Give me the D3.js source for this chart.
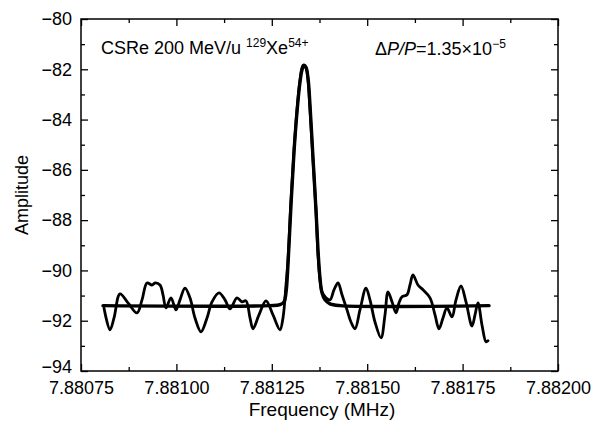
<!DOCTYPE html>
<html>
<head>
<meta charset="utf-8">
<script src="https://cdn.jsdelivr.net/npm/d3@7"></script>
<style>
  html, body { margin: 0; padding: 0; background: #fff; }
  svg { display: block; font-family: "Liberation Sans", Arial, Helvetica, sans-serif; }
</style>
</head>
<body>
<svg id="chart" width="601" height="424"></svg>
<script>
// ---- Data ----
const measFreq = [7.8808103, 7.8808260, 7.8808365, 7.8808522, 7.8808732, 7.8808967, 7.8809099, 7.8809230,
  7.8809361, 7.8809439, 7.8809570, 7.8809649, 7.8809727, 7.8809858, 7.8809989, 7.8810094, 7.8810225,
  7.8810356, 7.8810487, 7.8810645, 7.8810802, 7.8810933, 7.8811116, 7.8811274, 7.8811405, 7.8811588,
  7.8811719, 7.8811824, 7.8811929, 7.8812007, 7.8812164, 7.8812348, 7.8812531, 7.8812715, 7.8812793,
  7.8812872, 7.8812924, 7.8813003, 7.8813082, 7.8813160, 7.8813239, 7.8813318, 7.8813396, 7.8813449,
  7.8813501, 7.8813580, 7.8813658, 7.8813711, 7.8813763, 7.8813815, 7.8813920, 7.8814025, 7.8814130,
  7.8814235, 7.8814340, 7.8814471, 7.8814575, 7.8814680, 7.8814811, 7.8814968, 7.8815073, 7.8815204,
  7.8815362, 7.8815466, 7.8815545, 7.8815650, 7.8815755, 7.8815833, 7.8815912, 7.8816043, 7.8816121,
  7.8816200, 7.8816331, 7.8816462, 7.8816646, 7.8816777, 7.8816881, 7.8816986, 7.8817091, 7.8817222,
  7.8817327, 7.8817458, 7.8817589, 7.8817746, 7.8817825, 7.8817903, 7.8818008, 7.8818113, 7.8818165];
const measAmp = [-91.49, -92.36, -91.89, -90.93, -91.29, -91.69, -91.17, -90.50,
  -90.58, -90.50, -90.58, -90.97, -91.49, -91.09, -91.57, -91.17, -90.70,
  -91.09, -91.89, -92.44, -91.89, -91.25, -90.89, -91.17, -91.53, -91.09,
  -91.25, -91.21, -91.89, -92.32, -91.77, -91.21, -91.77, -92.36, -91.89,
  -90.58, -89.58, -87.20, -85.21, -83.62, -82.43, -81.84, -81.95, -82.43,
  -83.62, -85.61, -87.60, -89.38, -90.38, -90.85, -91.09, -91.17, -90.77,
  -90.50, -90.97, -91.57, -92.05, -92.32, -91.57, -90.70, -91.17, -92.05,
  -92.68, -91.77, -90.85, -91.25, -91.69, -91.29, -91.05, -90.97, -90.58,
  -90.18, -90.58, -90.77, -91.09, -91.77, -92.32, -91.89, -91.49, -91.85,
  -91.17, -90.62, -91.25, -92.21, -91.77, -91.29, -92.17, -92.84, -92.80];

const fitFreq = [7.8808077, 7.8812453, 7.8812715, 7.8812820, 7.8812872, 7.8812924, 7.8813003, 7.8813082,
  7.8813160, 7.8813239, 7.8813291, 7.8813344, 7.8813396, 7.8813449, 7.8813501, 7.8813580, 7.8813658,
  7.8813711, 7.8813763, 7.8813815, 7.8813894, 7.8814025, 7.8814287, 7.8818192];
const fitAmp = [-91.40, -91.40, -91.36, -91.25, -90.89, -89.78, -87.40, -85.29,
  -83.70, -82.51, -82.03, -81.84, -81.92, -82.35, -83.42, -85.53, -87.60,
  -89.19, -90.30, -90.89, -91.17, -91.33, -91.40, -91.40];

const freqTicks = [7.88075, 7.88100, 7.88125, 7.88150, 7.88175, 7.88200];
const freqMinorTicks = [7.880875, 7.881125, 7.881375, 7.881625, 7.881875];
const ampTicks = [-80, -82, -84, -86, -88, -90, -92, -94];
const ampMinorTicks = [-81, -83, -85, -87, -89, -91, -93];

const xTitle = "Frequency (MHz)";
const yTitle = "Amplitude";

// ---- Layout ----
const svg = d3.select("#chart");
const L = 81, R = 558, T = 19, B = 371;
const x = d3.scaleLinear().domain([7.88075, 7.88200]).range([L, R]);
const y = d3.scaleLinear().domain([-94, -80]).range([B, T]);
const FS = 18;

function styleAxis(g) {
  g.select(".domain").remove();
  g.selectAll("line").attr("stroke", "#000").attr("stroke-width", 1.3);
  g.selectAll("text").attr("font-size", FS).attr("fill", "#000")
    .attr("font-family", '"Liberation Sans", Arial, sans-serif');
}

// major + minor ticks, inward, all four sides
svg.append("g").attr("transform", `translate(0,${B})`)
  .call(d3.axisBottom(x).tickValues(freqTicks).tickFormat(d3.format(".5f")).tickSizeInner(-7).tickSizeOuter(0).tickPadding(10))
  .call(styleAxis);
svg.append("g").attr("transform", `translate(0,${B})`)
  .call(d3.axisBottom(x).tickValues(freqMinorTicks).tickFormat("").tickSizeInner(-4).tickSizeOuter(0))
  .call(styleAxis);
svg.append("g").attr("transform", `translate(0,${T})`)
  .call(d3.axisTop(x).tickValues(freqTicks).tickFormat("").tickSizeInner(-7).tickSizeOuter(0))
  .call(styleAxis);
svg.append("g").attr("transform", `translate(0,${T})`)
  .call(d3.axisTop(x).tickValues(freqMinorTicks).tickFormat("").tickSizeInner(-4).tickSizeOuter(0))
  .call(styleAxis);

const yAxisG = svg.append("g").attr("transform", `translate(${L},0)`)
  .call(d3.axisLeft(y).tickValues(ampTicks).tickFormat(d3.format("d")).tickSizeInner(-7).tickSizeOuter(0).tickPadding(9))
  .call(styleAxis);
// lift the lowest label slightly so it clears the first frequency label
yAxisG.selectAll(".tick").filter(d => d === ampTicks[ampTicks.length - 1])
  .select("text").attr("y", -4);
svg.append("g").attr("transform", `translate(${L},0)`)
  .call(d3.axisLeft(y).tickValues(ampMinorTicks).tickFormat("").tickSizeInner(-4).tickSizeOuter(0))
  .call(styleAxis);
svg.append("g").attr("transform", `translate(${R},0)`)
  .call(d3.axisRight(y).tickValues(ampTicks).tickFormat("").tickSizeInner(-7).tickSizeOuter(0))
  .call(styleAxis);
svg.append("g").attr("transform", `translate(${R},0)`)
  .call(d3.axisRight(y).tickValues(ampMinorTicks).tickFormat("").tickSizeInner(-4).tickSizeOuter(0))
  .call(styleAxis);

// frame
svg.append("rect").attr("x", L).attr("y", T).attr("width", R - L).attr("height", B - T)
  .attr("fill", "none").attr("stroke", "#000").attr("stroke-width", 1.5);

// ---- Lines ----
const meas = measFreq.map((f, i) => [f, measAmp[i]]);
const fit = fitFreq.map((f, i) => [f, fitAmp[i]]);

const line = d3.line().x(d => x(d[0])).y(d => y(d[1])).curve(d3.curveCatmullRom.alpha(0.5));

svg.append("path").datum(fit).attr("d", line)
  .attr("fill", "none").attr("stroke", "#000").attr("stroke-width", 3.4)
  .attr("stroke-linejoin", "round").attr("stroke-linecap", "round");
svg.append("path").datum(meas).attr("d", line)
  .attr("fill", "none").attr("stroke", "#000").attr("stroke-width", 2.8)
  .attr("stroke-linejoin", "round").attr("stroke-linecap", "round");

// ---- Titles ----
svg.append("text").attr("x", 322).attr("y", 416).attr("text-anchor", "middle")
  .attr("font-size", 19).text(xTitle);
svg.append("text").attr("transform", `translate(28,${(T + B) / 2}) rotate(-90)`)
  .attr("text-anchor", "middle").attr("font-size", FS).text(yTitle);

// ---- Annotations ----
const a1 = svg.append("text").attr("x", 101).attr("y", 54).attr("font-size", FS);
a1.append("tspan").text("CSRe 200 MeV/u ");
a1.append("tspan").attr("font-size", 12).attr("dy", -7).text("129");
a1.append("tspan").attr("dy", 7).text("Xe");
a1.append("tspan").attr("font-size", 12).attr("dy", -7).text("54+");

const a2 = svg.append("text").attr("x", 375).attr("y", 55).attr("font-size", FS);
a2.append("tspan").text("Δ");
a2.append("tspan").attr("font-style", "italic").text("P/P");
a2.append("tspan").text("=1.35×10");
a2.append("tspan").attr("font-size", 12).attr("dy", -7).text("−5");
</script>
</body>
</html>
